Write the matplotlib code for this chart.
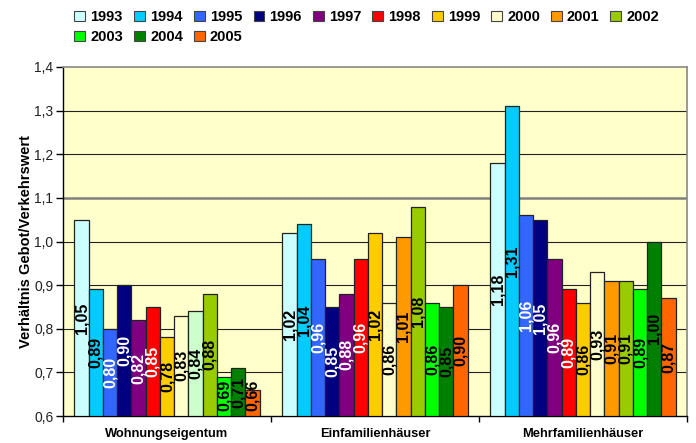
import matplotlib
matplotlib.use("Agg")
import matplotlib.pyplot as plt
import numpy as np
from matplotlib.patches import Patch

plt.rcParams["font.family"] = ["Liberation Sans", "DejaVu Sans"]

categories = ["Wohnungseigentum", "Einfamilienhäuser", "Mehrfamilienhäuser"]
years = ["1993", "1994", "1995", "1996", "1997", "1998", "1999",
         "2000", "2001", "2002", "2003", "2004", "2005"]

# Verhältnis Gebot/Verkehrswert je Jahr, eine Liste pro Kategorie
wohnungseigentum = [1.05, 0.89, 0.80, 0.90, 0.82, 0.85, 0.78, 0.83, 0.84, 0.88, 0.69, 0.71, 0.66]
einfamilienhaeuser = [1.02, 1.04, 0.96, 0.85, 0.88, 0.96, 1.02, 0.86, 1.01, 1.08, 0.86, 0.85, 0.90]
mehrfamilienhaeuser = [1.18, 1.31, 1.06, 1.05, 0.96, 0.89, 0.86, 0.93, 0.91, 0.91, 0.89, 1.00, 0.87]

year_colors = ["#CCFFFF", "#00CCFF", "#3366FF", "#000080", "#800080", "#FF0000", "#FFCC00",
               "#FFFFCC", "#FF9900", "#99CC00", "#00FF00", "#008000", "#FF6600"]
# dunkle Balken bekommen weiße Beschriftung
white_label_years = {"1995", "1996", "1997", "1998"}

y_ticks = [0.6, 0.7, 0.8, 0.9, 1.0, 1.1, 1.2, 1.3, 1.4]

values = np.array([wohnungseigentum, einfamilienhaeuser, mehrfamilienhaeuser])
bar_colors = np.array([year_colors] * len(categories), dtype=object)
bar_colors[0, 8] = "#CCFFCC"  # einzeln umgefärbter Datenpunkt

fig = plt.figure(figsize=(6.96, 4.43), dpi=100)
ax = fig.add_axes([63 / 696, 1 - 416 / 443, 624 / 696, 349 / 443])
ax.set_facecolor("#FFFFCC")

n_years = len(years)
width = 0.0685
base = 0.6
x_groups = np.arange(len(categories))
offsets = (np.arange(n_years) - (n_years - 1) / 2) * width

for j, year in enumerate(years):
    xs = x_groups + offsets[j]
    vals = values[:, j]
    ax.bar(xs, vals - base, width=width, bottom=base, color=bar_colors[:, j],
           edgecolor="#222222", linewidth=0.9, zorder=3)
    txt_color = "white" if year in white_label_years else "black"
    for x, v in zip(xs, vals):
        y = max((base + v) / 2, base + 0.047)
        ax.text(x, y, f"{v:.2f}".replace(".", ","), rotation=90, ha="center", va="center",
                fontsize=11.5, fontweight="bold", color=txt_color, zorder=4)

ax.set_xlim(-0.5, len(categories) - 0.5)
ax.set_ylim(y_ticks[0], y_ticks[-1])
ax.set_yticks(y_ticks)
ax.set_yticklabels([f"{t:.1f}".replace(".", ",") for t in y_ticks], fontsize=10, color="#222222")

for t in y_ticks[1:-1]:
    if abs(t - 1.1) < 1e-9:
        ax.axhline(t, color="#808080", linewidth=1.8, zorder=1)
    else:
        ax.axhline(t, color="#222222", linewidth=0.8, zorder=1)

# Kategoriegrenzen als Teilstriche, Beschriftung mittig darunter
ax.set_xticks(np.arange(len(categories) + 1) - 0.5)
ax.set_xticklabels([])
ax.set_xticks(x_groups, minor=True)
ax.set_xticklabels(categories, minor=True, fontsize=9.3, fontweight="bold")
ax.tick_params(axis="x", which="minor", length=0, pad=8.5)
ax.tick_params(axis="x", which="major", length=4, direction="out", width=1)
ax.tick_params(axis="y", length=5, direction="out", width=1, pad=2)

for side in ("top", "right"):
    ax.spines[side].set_color("#888888")
    ax.spines[side].set_linewidth(1.2)
for side in ("left", "bottom"):
    ax.spines[side].set_color("black")
    ax.spines[side].set_linewidth(1.0)

ax.set_ylabel("Verhältnis Gebot/Verkehrswert", fontsize=10.5, fontweight="bold", labelpad=1)

# Legende zeilenweise: 10 Jahre oben, 3 darunter (matplotlib füllt spaltenweise)
ncol = 10
order = []
for c in range(ncol):
    order.append(c)
    if c + ncol < n_years:
        order.append(c + ncol)
handles = [Patch(facecolor=year_colors[i], edgecolor="#444444", linewidth=0.8) for i in order]
labels = [years[i] for i in order]
fig.legend(handles, labels, loc="upper left", bbox_to_anchor=(0.092, 1.0), ncol=ncol,
           frameon=False, prop={"weight": "bold", "size": 10.5}, handlelength=0.75,
           handleheight=0.75, handletextpad=0.35, columnspacing=0.75, labelspacing=0.4,
           borderaxespad=0.3)

fig.savefig("out.png", dpi=100)
